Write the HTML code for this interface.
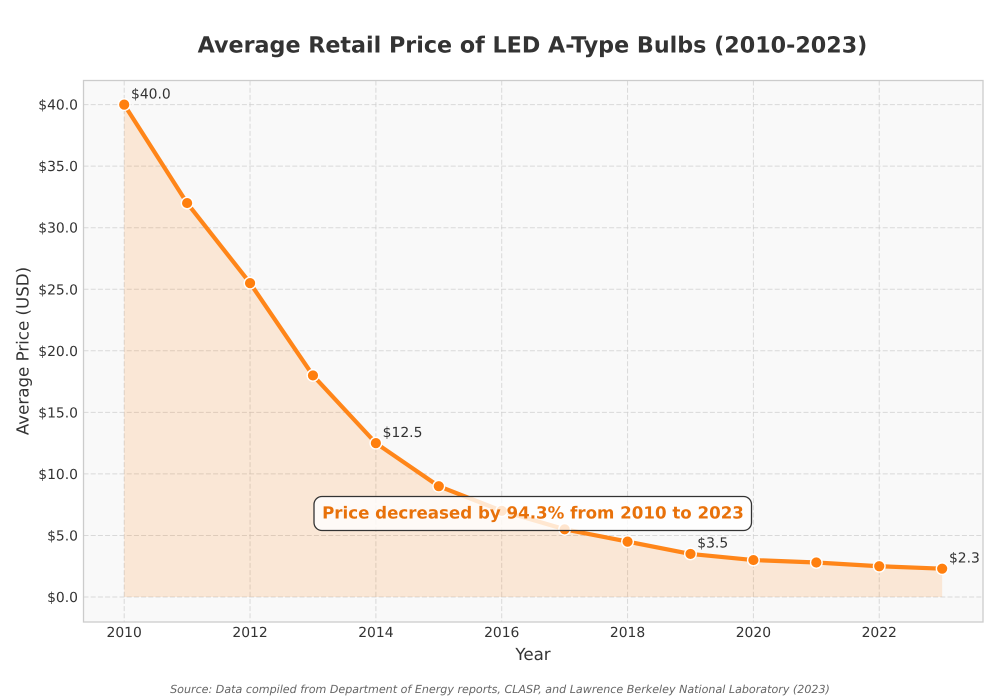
<!DOCTYPE html>
<html>
<head>
<meta charset="utf-8">
<title>Average Retail Price of LED A-Type Bulbs</title>
<style>
html,body{margin:0;padding:0;background:#fff;}
svg{display:block;font-family:"DejaVu Sans","Liberation Sans",sans-serif;text-rendering:geometricPrecision;}
</style>
</head>
<body>
<svg id="chart" xmlns="http://www.w3.org/2000/svg" width="1000" height="700" viewBox="0 0 1000 700"></svg>
<script>
var years = [2010,2011,2012,2013,2014,2015,2016,2017,2018,2019,2020,2021,2022,2023];
var prices = [40,32,25.5,18,12.5,9,7,5.5,4.5,3.5,3,2.8,2.5,2.3];
var xTicks = [2010,2012,2014,2016,2018,2020,2022];
var yTicks = [0,5,10,15,20,25,30,35,40];
var labeledYears = [2010,2014,2019,2023];

var NS = 'http://www.w3.org/2000/svg';
var svg = document.getElementById('chart');
var plot = {l:83.5,r:983,t:80.5,b:622};

function xScale(v){ return 124.2 + (v-2010)*62.92; }
function yScale(v){ return 597 - v*12.31; }
function make(tag,attrs,text){
  var el = document.createElementNS(NS,tag);
  for (var k in attrs) el.setAttribute(k,attrs[k]);
  if (text !== undefined) el.textContent = text;
  svg.appendChild(el);
  return el;
}

var bg = make('rect',{x:plot.l,y:plot.t,width:plot.r-plot.l,height:plot.b-plot.t,fill:'#f9f9f9'});



var grid = {stroke:'#cccccc','stroke-width':1,'stroke-dasharray':'5 2.2','stroke-opacity':0.7};
xTicks.forEach(function(t){
  var a = Object.assign({x1:xScale(t),x2:xScale(t),y1:plot.t,y2:plot.b},grid);
  var g = make('line',a);
  
  
  var lbl = make('text',{x:xScale(t),y:637,'text-anchor':'middle','font-size':13.89,fill:'#333333'},t);
  
  
});
yTicks.forEach(function(t){
  var a = Object.assign({x1:plot.l,x2:plot.r,y1:yScale(t),y2:yScale(t)},grid);
  var g = make('line',a);
  
  
  var lbl = make('text',{x:78,y:yScale(t)+5,'text-anchor':'end','font-size':13.89,fill:'#333333'},'$'+t.toFixed(1));
  
  
});

var areaD = 'M'+xScale(years[0])+' '+yScale(0);
var lineD = '';
years.forEach(function(y,i){
  areaD += ' L'+xScale(y)+' '+yScale(prices[i]);
  lineD += (i?' L':'M')+xScale(y)+' '+yScale(prices[i]);
});
areaD += ' L'+xScale(years[years.length-1])+' '+yScale(0)+' Z';

var area = make('path',{d:areaD,fill:'#ff7f0e','fill-opacity':0.15});



var line = make('path',{d:lineD,fill:'none',stroke:'#ff7f0e','stroke-width':4.2,'stroke-linejoin':'round','stroke-linecap':'round','stroke-opacity':0.95});



years.forEach(function(y,i){
  var c = make('circle',{cx:xScale(y),cy:yScale(prices[i]),r:5.8,fill:'#ff7f0e',stroke:'#ffffff','stroke-width':1.4});
  
  
  var tip = document.createElementNS(NS,'title');
  tip.textContent = y+': $'+prices[i].toFixed(1);
  c.appendChild(tip);
});

labeledYears.forEach(function(y){
  var i = years.indexOf(y);
  var t = make('text',{x:xScale(y)+6.8,y:yScale(prices[i])-6.3,'font-size':13.89,fill:'#333333'},'$'+prices[i].toFixed(1));
  
  
});

var frame = make('rect',{x:plot.l,y:plot.t,width:plot.r-plot.l,height:plot.b-plot.t,fill:'none',stroke:'#cccccc','stroke-width':1.3});



var box = make('rect',{x:314,y:496.5,width:437.5,height:34,rx:8,ry:8,fill:'#ffffff','fill-opacity':0.8,stroke:'#333333','stroke-width':1.3});



var note = make('text',{x:533,y:518.5,'text-anchor':'middle','font-size':16.67,'font-weight':'bold',fill:'#e8710a'},'Price decreased by 94.3% from 2010 to 2023');



var title = make('text',{x:532.5,y:52.5,'text-anchor':'middle','font-size':22.22,'font-weight':'bold',fill:'#333333'},'Average Retail Price of LED A-Type Bulbs (2010-2023)');



var xTitle = make('text',{x:533,y:660,'text-anchor':'middle','font-size':16.67,fill:'#333333'},'Year');



var yTitle = make('text',{x:0,y:0,transform:'translate(28.5 351) rotate(-90)','text-anchor':'middle','font-size':16.67,fill:'#333333'},'Average Price (USD)');



var src = make('text',{x:500,y:693,'text-anchor':'middle','font-size':11.11,'font-style':'italic',fill:'#666666'},'Source: Data compiled from Department of Energy reports, CLASP, and Lawrence Berkeley National Laboratory (2023)');


</script>
</body>
</html>
